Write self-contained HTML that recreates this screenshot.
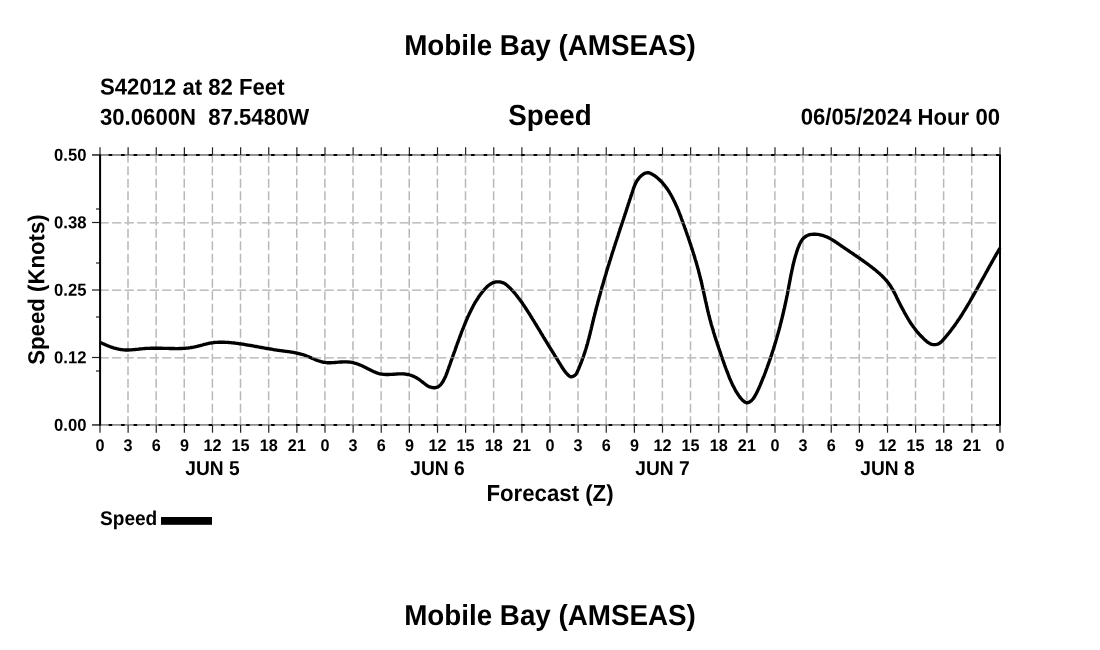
<!DOCTYPE html>
<html lang="en">
<head>
<meta charset="utf-8">
<title>Mobile Bay (AMSEAS) - Speed</title>
<style>
html,body{margin:0;padding:0;background:#fff;}
body{width:1100px;height:650px;overflow:hidden;}
svg{display:block;}
</style>
</head>
<body>
<svg width="1100" height="650" viewBox="0 0 1100 650" font-family="'Liberation Sans', sans-serif" font-weight="bold" fill="#000">
<rect width="1100" height="650" fill="#fff"/>
<g stroke="#b8b8b8" stroke-width="1.5" stroke-dasharray="9 3.5" stroke-dashoffset="0.3" fill="none">
<path d="M99.88,425.0 V155.0"/>
<path d="M128.00,425.0 V155.0"/>
<path d="M156.13,425.0 V155.0"/>
<path d="M184.25,425.0 V155.0"/>
<path d="M212.38,425.0 V155.0"/>
<path d="M240.50,425.0 V155.0"/>
<path d="M268.63,425.0 V155.0"/>
<path d="M296.75,425.0 V155.0"/>
<path d="M324.88,425.0 V155.0"/>
<path d="M353.00,425.0 V155.0"/>
<path d="M381.13,425.0 V155.0"/>
<path d="M409.25,425.0 V155.0"/>
<path d="M437.38,425.0 V155.0"/>
<path d="M465.50,425.0 V155.0"/>
<path d="M493.63,425.0 V155.0"/>
<path d="M521.75,425.0 V155.0"/>
<path d="M549.88,425.0 V155.0"/>
<path d="M578.00,425.0 V155.0"/>
<path d="M606.13,425.0 V155.0"/>
<path d="M634.25,425.0 V155.0"/>
<path d="M662.38,425.0 V155.0"/>
<path d="M690.50,425.0 V155.0"/>
<path d="M718.63,425.0 V155.0"/>
<path d="M746.75,425.0 V155.0"/>
<path d="M774.88,425.0 V155.0"/>
<path d="M803.00,425.0 V155.0"/>
<path d="M831.13,425.0 V155.0"/>
<path d="M859.25,425.0 V155.0"/>
<path d="M887.38,425.0 V155.0"/>
<path d="M915.50,425.0 V155.0"/>
<path d="M943.63,425.0 V155.0"/>
<path d="M971.75,425.0 V155.0"/>
<path d="M999.88,425.0 V155.0"/>
<path d="M100.0,155.25 H1000.0"/>
<path d="M100.0,222.75 H1000.0"/>
<path d="M100.0,290.25 H1000.0"/>
<path d="M100.0,357.75 H1000.0"/>
<path d="M100.0,425.25 H1000.0"/>
</g>
<path d="M100.0,342.3 L101.0,342.8 L102.0,343.2 L103.0,343.7 L104.0,344.1 L105.0,344.6 L106.0,345.0 L107.0,345.5 L108.1,345.9 L109.1,346.3 L110.2,346.7 L111.2,347.1 L112.3,347.4 L113.3,347.8 L114.4,348.1 L115.5,348.4 L116.6,348.7 L117.6,348.9 L118.7,349.2 L119.8,349.4 L120.9,349.6 L122.0,349.7 L123.1,349.8 L124.2,349.9 L125.3,350.0 L126.4,350.0 L127.5,350.0 L128.6,350.0 L129.7,349.9 L130.8,349.9 L131.9,349.8 L133.0,349.7 L134.1,349.6 L135.2,349.5 L136.3,349.4 L137.4,349.3 L138.5,349.2 L139.7,349.0 L140.8,348.9 L141.9,348.8 L143.0,348.7 L144.1,348.6 L145.2,348.5 L146.3,348.4 L147.4,348.4 L148.5,348.3 L149.6,348.3 L150.7,348.2 L151.8,348.2 L153.0,348.2 L154.1,348.2 L155.2,348.2 L156.3,348.2 L157.4,348.2 L158.5,348.2 L159.6,348.2 L160.7,348.2 L161.8,348.2 L162.9,348.3 L164.0,348.3 L165.1,348.3 L166.2,348.4 L167.3,348.4 L168.4,348.4 L169.5,348.5 L170.6,348.5 L171.7,348.5 L172.9,348.5 L174.0,348.5 L175.1,348.6 L176.2,348.6 L177.3,348.6 L178.4,348.6 L179.5,348.5 L180.6,348.5 L181.7,348.5 L182.8,348.4 L183.9,348.4 L185.0,348.3 L186.1,348.2 L187.2,348.1 L188.3,348.0 L189.4,347.8 L190.4,347.7 L191.5,347.5 L192.6,347.3 L193.7,347.1 L194.8,346.9 L195.9,346.6 L197.0,346.4 L198.0,346.1 L199.1,345.8 L200.2,345.5 L201.3,345.3 L202.4,345.0 L203.4,344.7 L204.5,344.4 L205.6,344.2 L206.7,343.9 L207.8,343.7 L208.8,343.4 L209.9,343.2 L211.0,343.0 L212.1,342.8 L213.2,342.7 L214.3,342.5 L215.4,342.4 L216.5,342.3 L217.6,342.3 L218.7,342.2 L219.8,342.2 L220.9,342.2 L222.0,342.2 L223.1,342.2 L224.2,342.2 L225.4,342.3 L226.5,342.3 L227.6,342.4 L228.7,342.5 L229.8,342.6 L230.9,342.7 L232.0,342.8 L233.1,342.9 L234.2,343.0 L235.3,343.2 L236.4,343.3 L237.5,343.4 L238.6,343.6 L239.7,343.8 L240.8,343.9 L241.9,344.1 L243.0,344.2 L244.1,344.4 L245.2,344.6 L246.3,344.8 L247.4,345.0 L248.5,345.1 L249.6,345.3 L250.7,345.5 L251.8,345.7 L252.9,345.9 L253.9,346.1 L255.0,346.3 L256.1,346.5 L257.2,346.7 L258.3,346.9 L259.4,347.1 L260.5,347.3 L261.6,347.5 L262.7,347.7 L263.7,347.9 L264.8,348.1 L265.9,348.3 L267.0,348.5 L268.1,348.7 L269.2,348.9 L270.3,349.0 L271.4,349.2 L272.5,349.4 L273.6,349.6 L274.6,349.8 L275.7,349.9 L276.8,350.1 L277.9,350.3 L279.0,350.4 L280.1,350.6 L281.2,350.7 L282.3,350.9 L283.4,351.0 L284.5,351.2 L285.6,351.3 L286.7,351.4 L287.8,351.6 L288.9,351.7 L290.0,351.9 L291.1,352.1 L292.2,352.2 L293.3,352.4 L294.4,352.6 L295.5,352.8 L296.6,353.0 L297.7,353.3 L298.7,353.5 L299.8,353.8 L300.9,354.1 L301.9,354.4 L303.0,354.7 L304.1,355.0 L305.1,355.4 L306.2,355.8 L307.2,356.2 L308.2,356.6 L309.3,357.1 L310.3,357.5 L311.3,357.9 L312.4,358.4 L313.4,358.8 L314.4,359.2 L315.5,359.7 L316.5,360.1 L317.5,360.5 L318.6,360.8 L319.6,361.2 L320.7,361.5 L321.7,361.8 L322.8,362.0 L323.8,362.3 L324.9,362.4 L326.0,362.6 L327.1,362.7 L328.2,362.7 L329.3,362.7 L330.4,362.7 L331.5,362.7 L332.6,362.6 L333.7,362.6 L334.9,362.5 L336.0,362.4 L337.1,362.3 L338.2,362.2 L339.3,362.1 L340.5,362.0 L341.6,362.0 L342.7,361.9 L343.8,361.9 L344.9,361.8 L346.0,361.9 L347.1,361.9 L348.2,362.0 L349.3,362.1 L350.4,362.2 L351.4,362.4 L352.5,362.6 L353.6,362.8 L354.6,363.1 L355.7,363.4 L356.7,363.7 L357.8,364.1 L358.8,364.4 L359.8,364.9 L360.8,365.3 L361.9,365.7 L362.9,366.2 L363.9,366.7 L364.9,367.2 L365.9,367.7 L366.9,368.2 L367.9,368.8 L368.9,369.3 L369.9,369.8 L370.9,370.3 L371.9,370.8 L372.9,371.3 L373.9,371.7 L374.9,372.1 L376.0,372.6 L377.0,372.9 L378.0,373.3 L379.1,373.6 L380.1,373.8 L381.2,374.1 L382.3,374.2 L383.4,374.4 L384.5,374.4 L385.6,374.5 L386.7,374.5 L387.8,374.5 L388.9,374.5 L390.1,374.4 L391.2,374.4 L392.3,374.3 L393.5,374.2 L394.6,374.2 L395.7,374.1 L396.9,374.0 L398.0,373.9 L399.1,373.9 L400.2,373.9 L401.4,373.9 L402.5,373.9 L403.6,373.9 L404.6,374.0 L405.7,374.1 L406.8,374.3 L407.8,374.5 L408.9,374.7 L409.9,375.0 L411.0,375.3 L412.0,375.7 L413.0,376.1 L414.0,376.5 L414.9,377.0 L415.9,377.5 L416.8,378.0 L417.8,378.6 L418.7,379.2 L419.6,379.8 L420.5,380.5 L421.4,381.2 L422.3,381.9 L423.2,382.6 L424.1,383.3 L425.0,384.0 L425.9,384.7 L426.8,385.3 L427.7,385.9 L428.7,386.4 L429.7,386.9 L430.8,387.2 L431.9,387.5 L433.0,387.7 L434.1,387.7 L435.2,387.7 L436.3,387.5 L437.4,387.1 L438.3,386.7 L439.2,386.0 L440.1,385.3 L440.8,384.5 L441.5,383.6 L442.2,382.7 L442.8,381.7 L443.4,380.8 L443.9,379.8 L444.4,378.8 L444.9,377.8 L445.4,376.8 L445.8,375.8 L446.2,374.7 L446.6,373.7 L447.0,372.7 L447.4,371.6 L447.7,370.6 L448.1,369.5 L448.5,368.5 L448.8,367.5 L449.2,366.4 L449.6,365.4 L450.0,364.3 L450.3,363.3 L450.7,362.2 L451.1,361.2 L451.4,360.2 L451.8,359.1 L452.2,358.1 L452.6,357.0 L452.9,356.0 L453.3,354.9 L453.7,353.9 L454.0,352.8 L454.4,351.8 L454.8,350.8 L455.2,349.7 L455.5,348.7 L455.9,347.6 L456.3,346.6 L456.6,345.5 L457.0,344.5 L457.4,343.4 L457.8,342.4 L458.2,341.4 L458.5,340.3 L458.9,339.3 L459.3,338.2 L459.7,337.2 L460.1,336.2 L460.5,335.1 L460.9,334.1 L461.2,333.1 L461.6,332.0 L462.0,331.0 L462.4,330.0 L462.8,328.9 L463.3,327.9 L463.7,326.9 L464.1,325.8 L464.5,324.8 L464.9,323.8 L465.3,322.8 L465.8,321.7 L466.2,320.7 L466.6,319.7 L467.1,318.7 L467.5,317.7 L467.9,316.7 L468.4,315.7 L468.9,314.7 L469.3,313.7 L469.8,312.7 L470.3,311.7 L470.8,310.7 L471.3,309.7 L471.8,308.7 L472.3,307.7 L472.8,306.7 L473.3,305.8 L473.8,304.8 L474.4,303.8 L474.9,302.9 L475.5,301.9 L476.1,301.0 L476.7,300.0 L477.3,299.1 L477.9,298.2 L478.5,297.2 L479.1,296.3 L479.8,295.4 L480.4,294.5 L481.1,293.6 L481.8,292.7 L482.5,291.8 L483.2,290.9 L483.9,290.1 L484.7,289.2 L485.5,288.4 L486.2,287.6 L487.0,286.8 L487.9,286.0 L488.7,285.3 L489.6,284.7 L490.5,284.1 L491.4,283.5 L492.4,283.0 L493.3,282.6 L494.3,282.3 L495.4,282.0 L496.5,281.9 L497.6,281.8 L498.7,281.8 L499.9,281.9 L501.0,282.2 L502.2,282.5 L503.3,282.9 L504.3,283.3 L505.2,283.9 L506.1,284.5 L507.0,285.2 L507.8,285.9 L508.6,286.7 L509.4,287.4 L510.2,288.2 L511.0,289.0 L511.7,289.8 L512.5,290.6 L513.2,291.4 L514.0,292.3 L514.7,293.1 L515.4,294.0 L516.1,294.8 L516.8,295.7 L517.5,296.6 L518.1,297.5 L518.8,298.3 L519.5,299.2 L520.1,300.1 L520.8,301.0 L521.4,301.9 L522.1,302.8 L522.7,303.7 L523.3,304.7 L524.0,305.6 L524.6,306.5 L525.2,307.4 L525.8,308.3 L526.4,309.3 L527.0,310.2 L527.6,311.1 L528.2,312.1 L528.8,313.0 L529.4,313.9 L530.0,314.9 L530.6,315.8 L531.2,316.8 L531.7,317.7 L532.3,318.6 L532.9,319.6 L533.5,320.5 L534.1,321.5 L534.6,322.4 L535.2,323.4 L535.8,324.3 L536.4,325.2 L536.9,326.2 L537.5,327.1 L538.1,328.1 L538.7,329.0 L539.2,330.0 L539.8,330.9 L540.4,331.9 L540.9,332.8 L541.5,333.8 L542.1,334.7 L542.7,335.7 L543.2,336.6 L543.8,337.6 L544.4,338.5 L544.9,339.5 L545.5,340.4 L546.1,341.4 L546.7,342.3 L547.3,343.3 L547.8,344.2 L548.4,345.2 L549.0,346.1 L549.6,347.1 L550.2,348.0 L550.8,348.9 L551.3,349.9 L551.9,350.8 L552.5,351.8 L553.1,352.7 L553.7,353.7 L554.3,354.6 L554.8,355.6 L555.4,356.5 L556.0,357.4 L556.6,358.4 L557.2,359.3 L557.8,360.3 L558.3,361.2 L558.9,362.1 L559.5,363.1 L560.1,364.0 L560.7,365.0 L561.2,365.9 L561.8,366.8 L562.4,367.8 L563.0,368.7 L563.6,369.6 L564.3,370.5 L564.9,371.4 L565.6,372.3 L566.3,373.1 L567.1,374.0 L567.9,374.8 L568.7,375.6 L569.6,376.3 L570.6,376.7 L571.6,376.7 L572.7,376.5 L573.8,376.0 L574.8,375.4 L575.6,374.6 L576.3,373.7 L576.8,372.8 L577.3,371.8 L577.8,370.8 L578.2,369.7 L578.7,368.7 L579.1,367.7 L579.5,366.7 L579.9,365.6 L580.3,364.6 L580.8,363.6 L581.2,362.5 L581.6,361.5 L582.0,360.4 L582.3,359.4 L582.7,358.4 L583.1,357.3 L583.5,356.3 L583.8,355.2 L584.2,354.2 L584.5,353.1 L584.9,352.1 L585.2,351.0 L585.6,350.0 L585.9,348.9 L586.2,347.9 L586.5,346.8 L586.8,345.7 L587.2,344.7 L587.5,343.6 L587.7,342.5 L588.0,341.5 L588.3,340.4 L588.6,339.3 L588.9,338.3 L589.2,337.2 L589.4,336.1 L589.7,335.0 L590.0,334.0 L590.2,332.9 L590.5,331.8 L590.7,330.7 L591.0,329.7 L591.3,328.6 L591.5,327.5 L591.8,326.4 L592.0,325.4 L592.3,324.3 L592.6,323.2 L592.8,322.1 L593.1,321.1 L593.3,320.0 L593.6,318.9 L593.9,317.8 L594.1,316.7 L594.4,315.7 L594.7,314.6 L595.0,313.5 L595.2,312.4 L595.5,311.4 L595.8,310.3 L596.1,309.2 L596.3,308.1 L596.6,307.1 L596.9,306.0 L597.2,304.9 L597.5,303.9 L597.7,302.8 L598.0,301.7 L598.3,300.6 L598.6,299.6 L598.9,298.5 L599.2,297.4 L599.5,296.3 L599.8,295.3 L600.1,294.2 L600.4,293.1 L600.6,292.1 L600.9,291.0 L601.2,289.9 L601.5,288.9 L601.8,287.8 L602.1,286.7 L602.5,285.7 L602.8,284.6 L603.1,283.5 L603.4,282.5 L603.7,281.4 L604.0,280.3 L604.3,279.3 L604.6,278.2 L604.9,277.2 L605.2,276.1 L605.6,275.0 L605.9,274.0 L606.2,272.9 L606.5,271.8 L606.8,270.8 L607.1,269.7 L607.5,268.7 L607.8,267.6 L608.1,266.5 L608.4,265.5 L608.8,264.4 L609.1,263.4 L609.4,262.3 L609.7,261.3 L610.1,260.2 L610.4,259.2 L610.7,258.1 L611.1,257.0 L611.4,256.0 L611.7,254.9 L612.1,253.9 L612.4,252.8 L612.7,251.8 L613.1,250.7 L613.4,249.7 L613.8,248.6 L614.1,247.6 L614.4,246.5 L614.8,245.5 L615.1,244.4 L615.4,243.4 L615.8,242.3 L616.1,241.3 L616.5,240.2 L616.8,239.2 L617.2,238.1 L617.5,237.1 L617.9,236.0 L618.2,235.0 L618.5,233.9 L618.9,232.9 L619.2,231.8 L619.6,230.8 L619.9,229.7 L620.3,228.7 L620.6,227.6 L621.0,226.5 L621.3,225.5 L621.7,224.4 L622.0,223.4 L622.4,222.3 L622.7,221.3 L623.1,220.2 L623.4,219.2 L623.8,218.1 L624.1,217.1 L624.5,216.0 L624.8,215.0 L625.2,213.9 L625.5,212.9 L625.9,211.8 L626.2,210.7 L626.6,209.7 L626.9,208.6 L627.2,207.6 L627.6,206.5 L627.9,205.5 L628.3,204.4 L628.6,203.3 L629.0,202.3 L629.3,201.2 L629.7,200.2 L630.0,199.1 L630.4,198.0 L630.7,197.0 L631.1,195.9 L631.4,194.8 L631.8,193.8 L632.1,192.7 L632.5,191.6 L632.8,190.6 L633.2,189.5 L633.5,188.5 L633.9,187.4 L634.3,186.4 L634.7,185.4 L635.2,184.3 L635.6,183.3 L636.1,182.4 L636.6,181.4 L637.2,180.5 L637.8,179.6 L638.5,178.7 L639.1,177.9 L639.9,177.0 L640.7,176.3 L641.5,175.5 L642.4,174.8 L643.4,174.1 L644.4,173.6 L645.4,173.1 L646.5,172.8 L647.5,172.7 L648.6,172.7 L649.6,173.0 L650.6,173.4 L651.6,173.9 L652.6,174.5 L653.6,175.1 L654.5,175.7 L655.5,176.4 L656.4,177.1 L657.2,177.8 L658.1,178.5 L658.9,179.2 L659.7,180.0 L660.5,180.8 L661.3,181.6 L662.1,182.4 L662.8,183.2 L663.5,184.1 L664.2,184.9 L664.9,185.8 L665.6,186.7 L666.3,187.6 L666.9,188.5 L667.5,189.4 L668.2,190.3 L668.8,191.3 L669.4,192.2 L669.9,193.1 L670.5,194.1 L671.0,195.0 L671.6,196.0 L672.1,197.0 L672.6,197.9 L673.1,198.9 L673.6,199.9 L674.1,200.9 L674.6,201.9 L675.1,202.9 L675.5,203.9 L676.0,204.9 L676.4,205.9 L676.9,206.9 L677.3,207.9 L677.7,208.9 L678.2,210.0 L678.6,211.0 L679.0,212.0 L679.4,213.1 L679.8,214.1 L680.2,215.1 L680.6,216.2 L681.0,217.2 L681.3,218.2 L681.7,219.3 L682.1,220.3 L682.5,221.4 L682.9,222.4 L683.2,223.5 L683.6,224.5 L684.0,225.5 L684.4,226.6 L684.7,227.6 L685.1,228.7 L685.5,229.7 L685.9,230.8 L686.2,231.8 L686.6,232.9 L687.0,233.9 L687.3,235.0 L687.7,236.0 L688.1,237.0 L688.4,238.1 L688.8,239.1 L689.1,240.2 L689.5,241.2 L689.8,242.3 L690.2,243.3 L690.5,244.4 L690.9,245.4 L691.2,246.5 L691.6,247.5 L691.9,248.6 L692.3,249.7 L692.6,250.7 L692.9,251.8 L693.3,252.8 L693.6,253.9 L693.9,254.9 L694.3,256.0 L694.6,257.0 L694.9,258.1 L695.2,259.2 L695.5,260.2 L695.9,261.3 L696.2,262.3 L696.5,263.4 L696.8,264.5 L697.1,265.5 L697.4,266.6 L697.7,267.7 L698.0,268.7 L698.3,269.8 L698.6,270.9 L698.8,271.9 L699.1,273.0 L699.4,274.1 L699.7,275.2 L699.9,276.2 L700.2,277.3 L700.5,278.4 L700.7,279.5 L701.0,280.6 L701.3,281.6 L701.5,282.7 L701.8,283.8 L702.0,284.9 L702.3,286.0 L702.5,287.0 L702.7,288.1 L703.0,289.2 L703.2,290.3 L703.5,291.4 L703.7,292.5 L704.0,293.5 L704.2,294.6 L704.4,295.7 L704.7,296.8 L704.9,297.9 L705.1,299.0 L705.4,300.1 L705.6,301.1 L705.9,302.2 L706.1,303.3 L706.4,304.4 L706.6,305.5 L706.8,306.5 L707.1,307.6 L707.3,308.7 L707.6,309.8 L707.8,310.9 L708.1,311.9 L708.4,313.0 L708.6,314.1 L708.9,315.2 L709.2,316.2 L709.4,317.3 L709.7,318.4 L710.0,319.5 L710.3,320.5 L710.6,321.6 L710.9,322.7 L711.1,323.7 L711.4,324.8 L711.7,325.8 L712.1,326.9 L712.4,328.0 L712.7,329.0 L713.0,330.1 L713.3,331.1 L713.6,332.2 L713.9,333.2 L714.3,334.3 L714.6,335.4 L714.9,336.4 L715.3,337.5 L715.6,338.5 L715.9,339.6 L716.3,340.6 L716.6,341.7 L717.0,342.7 L717.3,343.8 L717.7,344.8 L718.0,345.9 L718.4,346.9 L718.7,348.0 L719.1,349.0 L719.4,350.1 L719.8,351.1 L720.1,352.2 L720.5,353.2 L720.9,354.3 L721.2,355.3 L721.6,356.4 L722.0,357.4 L722.3,358.5 L722.7,359.6 L723.1,360.6 L723.4,361.7 L723.8,362.7 L724.2,363.8 L724.5,364.8 L724.9,365.9 L725.3,366.9 L725.7,368.0 L726.1,369.0 L726.5,370.1 L726.9,371.1 L727.3,372.2 L727.7,373.2 L728.1,374.2 L728.5,375.3 L728.9,376.3 L729.3,377.3 L729.7,378.4 L730.2,379.4 L730.6,380.4 L731.1,381.4 L731.5,382.4 L732.0,383.4 L732.4,384.4 L732.9,385.4 L733.4,386.4 L733.9,387.3 L734.4,388.3 L734.9,389.3 L735.4,390.2 L735.9,391.2 L736.5,392.1 L737.1,393.0 L737.7,394.0 L738.3,394.9 L738.9,395.8 L739.6,396.7 L740.3,397.6 L741.0,398.5 L741.8,399.4 L742.6,400.2 L743.5,401.0 L744.4,401.8 L745.3,402.3 L746.3,402.7 L747.3,402.7 L748.3,402.5 L749.3,402.1 L750.3,401.5 L751.3,400.7 L752.1,399.9 L752.9,399.0 L753.6,398.1 L754.2,397.2 L754.8,396.3 L755.3,395.3 L755.8,394.4 L756.3,393.4 L756.8,392.4 L757.3,391.4 L757.8,390.4 L758.2,389.4 L758.7,388.4 L759.2,387.4 L759.6,386.4 L760.1,385.4 L760.5,384.3 L760.9,383.3 L761.4,382.3 L761.8,381.2 L762.2,380.2 L762.6,379.2 L763.0,378.1 L763.5,377.1 L763.9,376.1 L764.3,375.0 L764.7,374.0 L765.1,373.0 L765.5,371.9 L765.9,370.9 L766.2,369.8 L766.6,368.8 L767.0,367.8 L767.4,366.7 L767.8,365.7 L768.1,364.6 L768.5,363.6 L768.9,362.6 L769.2,361.5 L769.6,360.5 L770.0,359.4 L770.3,358.4 L770.7,357.4 L771.0,356.3 L771.4,355.3 L771.7,354.2 L772.1,353.2 L772.4,352.1 L772.7,351.1 L773.1,350.0 L773.4,349.0 L773.7,347.9 L774.1,346.9 L774.4,345.8 L774.7,344.8 L775.0,343.7 L775.4,342.7 L775.7,341.6 L776.0,340.5 L776.3,339.5 L776.6,338.4 L776.9,337.4 L777.2,336.3 L777.5,335.2 L777.8,334.2 L778.1,333.1 L778.4,332.0 L778.7,330.9 L779.0,329.9 L779.3,328.8 L779.6,327.7 L779.9,326.6 L780.1,325.6 L780.4,324.5 L780.7,323.4 L781.0,322.3 L781.3,321.2 L781.5,320.1 L781.8,319.0 L782.1,318.0 L782.3,316.9 L782.6,315.8 L782.9,314.7 L783.1,313.6 L783.4,312.5 L783.6,311.4 L783.9,310.3 L784.1,309.2 L784.4,308.2 L784.6,307.1 L784.9,306.0 L785.1,304.9 L785.3,303.8 L785.6,302.7 L785.8,301.6 L786.0,300.5 L786.3,299.4 L786.5,298.4 L786.7,297.3 L786.9,296.2 L787.2,295.1 L787.4,294.0 L787.6,293.0 L787.8,291.9 L788.0,290.8 L788.2,289.7 L788.4,288.7 L788.6,287.6 L788.8,286.5 L789.0,285.4 L789.2,284.4 L789.4,283.3 L789.6,282.2 L789.8,281.2 L790.0,280.1 L790.2,279.1 L790.4,278.0 L790.6,276.9 L790.8,275.9 L791.0,274.8 L791.2,273.7 L791.5,272.7 L791.7,271.6 L791.9,270.5 L792.1,269.5 L792.4,268.4 L792.6,267.3 L792.8,266.3 L793.1,265.2 L793.3,264.1 L793.6,263.0 L793.9,262.0 L794.1,260.9 L794.4,259.8 L794.7,258.7 L795.0,257.6 L795.3,256.5 L795.6,255.4 L796.0,254.3 L796.3,253.3 L796.6,252.1 L797.0,251.0 L797.4,249.9 L797.7,248.8 L798.1,247.7 L798.6,246.6 L799.0,245.6 L799.5,244.5 L799.9,243.5 L800.5,242.5 L801.0,241.5 L801.6,240.6 L802.2,239.7 L802.9,238.9 L803.6,238.1 L804.4,237.4 L805.2,236.8 L806.0,236.2 L806.9,235.7 L807.9,235.3 L808.9,234.9 L809.9,234.6 L811.0,234.4 L812.1,234.3 L813.3,234.2 L814.4,234.2 L815.6,234.2 L816.8,234.3 L817.9,234.4 L819.1,234.6 L820.2,234.8 L821.3,235.1 L822.4,235.4 L823.5,235.7 L824.6,236.1 L825.6,236.5 L826.6,236.9 L827.6,237.3 L828.6,237.8 L829.6,238.3 L830.6,238.9 L831.5,239.4 L832.5,240.0 L833.4,240.5 L834.3,241.1 L835.2,241.7 L836.2,242.3 L837.1,243.0 L838.0,243.6 L838.9,244.2 L839.8,244.8 L840.7,245.5 L841.6,246.1 L842.5,246.7 L843.4,247.3 L844.4,248.0 L845.3,248.6 L846.2,249.2 L847.1,249.8 L848.0,250.4 L848.9,251.0 L849.8,251.7 L850.7,252.3 L851.7,252.9 L852.6,253.5 L853.5,254.1 L854.4,254.8 L855.3,255.4 L856.2,256.0 L857.1,256.6 L858.1,257.3 L859.0,257.9 L859.9,258.5 L860.8,259.2 L861.7,259.8 L862.6,260.4 L863.5,261.1 L864.4,261.7 L865.3,262.4 L866.2,263.0 L867.1,263.7 L868.0,264.3 L868.9,265.0 L869.8,265.7 L870.7,266.4 L871.6,267.0 L872.5,267.7 L873.3,268.4 L874.2,269.1 L875.1,269.8 L876.0,270.5 L876.8,271.2 L877.7,272.0 L878.5,272.7 L879.4,273.4 L880.2,274.2 L881.0,274.9 L881.8,275.7 L882.6,276.5 L883.4,277.3 L884.1,278.1 L884.9,278.9 L885.6,279.7 L886.4,280.5 L887.1,281.4 L887.8,282.2 L888.4,283.1 L889.1,284.0 L889.7,284.9 L890.4,285.8 L890.9,286.7 L891.5,287.6 L892.1,288.6 L892.7,289.5 L893.2,290.5 L893.7,291.5 L894.2,292.5 L894.8,293.4 L895.3,294.4 L895.8,295.4 L896.3,296.4 L896.7,297.4 L897.2,298.4 L897.7,299.4 L898.2,300.4 L898.7,301.4 L899.2,302.4 L899.7,303.4 L900.2,304.4 L900.7,305.4 L901.2,306.4 L901.7,307.4 L902.3,308.4 L902.8,309.4 L903.3,310.3 L903.8,311.3 L904.3,312.3 L904.9,313.3 L905.4,314.2 L906.0,315.2 L906.5,316.2 L907.1,317.1 L907.6,318.1 L908.2,319.0 L908.8,320.0 L909.3,320.9 L909.9,321.8 L910.5,322.8 L911.1,323.7 L911.8,324.6 L912.4,325.5 L913.0,326.4 L913.7,327.3 L914.3,328.1 L915.0,329.0 L915.6,329.9 L916.3,330.7 L917.0,331.6 L917.7,332.4 L918.4,333.3 L919.2,334.1 L919.9,334.9 L920.7,335.7 L921.5,336.5 L922.3,337.3 L923.1,338.1 L923.9,338.9 L924.7,339.7 L925.6,340.4 L926.4,341.2 L927.3,341.9 L928.2,342.5 L929.2,343.1 L930.2,343.7 L931.1,344.1 L932.2,344.4 L933.2,344.6 L934.3,344.7 L935.4,344.6 L936.6,344.4 L937.6,344.1 L938.6,343.7 L939.6,343.1 L940.5,342.5 L941.3,341.7 L942.1,341.0 L942.9,340.2 L943.6,339.3 L944.4,338.5 L945.1,337.6 L945.8,336.8 L946.5,335.9 L947.2,335.1 L948.0,334.2 L948.6,333.3 L949.3,332.5 L950.0,331.6 L950.7,330.7 L951.4,329.8 L952.0,328.9 L952.7,328.0 L953.4,327.2 L954.0,326.3 L954.7,325.4 L955.3,324.5 L955.9,323.6 L956.6,322.6 L957.2,321.7 L957.8,320.8 L958.4,319.9 L959.1,319.0 L959.7,318.1 L960.3,317.1 L960.9,316.2 L961.5,315.3 L962.1,314.4 L962.7,313.4 L963.2,312.5 L963.8,311.5 L964.4,310.6 L965.0,309.7 L965.6,308.7 L966.1,307.8 L966.7,306.8 L967.3,305.9 L967.8,304.9 L968.4,304.0 L969.0,303.0 L969.5,302.1 L970.1,301.1 L970.6,300.2 L971.2,299.2 L971.7,298.2 L972.3,297.3 L972.8,296.3 L973.4,295.4 L973.9,294.4 L974.5,293.4 L975.0,292.5 L975.6,291.5 L976.1,290.5 L976.7,289.6 L977.2,288.6 L977.7,287.6 L978.3,286.7 L978.8,285.7 L979.4,284.7 L979.9,283.7 L980.4,282.8 L981.0,281.8 L981.5,280.8 L982.0,279.9 L982.6,278.9 L983.1,277.9 L983.7,276.9 L984.2,276.0 L984.7,275.0 L985.3,274.0 L985.8,273.1 L986.3,272.1 L986.9,271.1 L987.4,270.2 L988.0,269.2 L988.5,268.2 L989.0,267.2 L989.6,266.3 L990.1,265.3 L990.7,264.3 L991.2,263.4 L991.7,262.4 L992.3,261.4 L992.8,260.5 L993.4,259.5 L993.9,258.5 L994.5,257.6 L995.0,256.6 L995.6,255.7 L996.1,254.7 L996.7,253.7 L997.2,252.8 L997.8,251.8 L998.3,250.9 L998.9,249.9 L999.4,249.0 L1000.0,248.0" stroke="#000" stroke-width="3.35" fill="none" stroke-linejoin="round" stroke-linecap="butt"/>
<g stroke="#c8c8c8" stroke-width="0.7" stroke-dasharray="9 3.5" stroke-dashoffset="0.3" fill="none">
<path d="M100.0,222.75 H1000.0"/>
<path d="M100.0,290.25 H1000.0"/>
<path d="M100.0,357.75 H1000.0"/>
</g>
<g stroke="#777" stroke-width="1.1" fill="none">
<path d="M92.0,154.9 H1000.0"/>
<path d="M92.0,424.8 H1000.0"/>
</g>
<g stroke="#000" stroke-width="2" stroke-dasharray="3.6 8.9" stroke-dashoffset="-8.6" fill="none">
<path d="M100.0,154.9 H1000.0"/>
<path d="M100.0,424.9 H1000.0"/>
</g>
<g stroke="#222" stroke-width="1.2" fill="none">
<path d="M100.00,155.0 v-7.7"/>
<path d="M100.00,425.0 v7.7"/>
<path d="M128.12,155.0 v-7.7"/>
<path d="M128.12,425.0 v7.7"/>
<path d="M156.25,155.0 v-7.7"/>
<path d="M156.25,425.0 v7.7"/>
<path d="M184.38,155.0 v-7.7"/>
<path d="M184.38,425.0 v7.7"/>
<path d="M212.50,155.0 v-7.7"/>
<path d="M212.50,425.0 v7.7"/>
<path d="M240.62,155.0 v-7.7"/>
<path d="M240.62,425.0 v7.7"/>
<path d="M268.75,155.0 v-7.7"/>
<path d="M268.75,425.0 v7.7"/>
<path d="M296.88,155.0 v-7.7"/>
<path d="M296.88,425.0 v7.7"/>
<path d="M325.00,155.0 v-7.7"/>
<path d="M325.00,425.0 v7.7"/>
<path d="M353.12,155.0 v-7.7"/>
<path d="M353.12,425.0 v7.7"/>
<path d="M381.25,155.0 v-7.7"/>
<path d="M381.25,425.0 v7.7"/>
<path d="M409.38,155.0 v-7.7"/>
<path d="M409.38,425.0 v7.7"/>
<path d="M437.50,155.0 v-7.7"/>
<path d="M437.50,425.0 v7.7"/>
<path d="M465.62,155.0 v-7.7"/>
<path d="M465.62,425.0 v7.7"/>
<path d="M493.75,155.0 v-7.7"/>
<path d="M493.75,425.0 v7.7"/>
<path d="M521.88,155.0 v-7.7"/>
<path d="M521.88,425.0 v7.7"/>
<path d="M550.00,155.0 v-7.7"/>
<path d="M550.00,425.0 v7.7"/>
<path d="M578.12,155.0 v-7.7"/>
<path d="M578.12,425.0 v7.7"/>
<path d="M606.25,155.0 v-7.7"/>
<path d="M606.25,425.0 v7.7"/>
<path d="M634.38,155.0 v-7.7"/>
<path d="M634.38,425.0 v7.7"/>
<path d="M662.50,155.0 v-7.7"/>
<path d="M662.50,425.0 v7.7"/>
<path d="M690.62,155.0 v-7.7"/>
<path d="M690.62,425.0 v7.7"/>
<path d="M718.75,155.0 v-7.7"/>
<path d="M718.75,425.0 v7.7"/>
<path d="M746.88,155.0 v-7.7"/>
<path d="M746.88,425.0 v7.7"/>
<path d="M775.00,155.0 v-7.7"/>
<path d="M775.00,425.0 v7.7"/>
<path d="M803.12,155.0 v-7.7"/>
<path d="M803.12,425.0 v7.7"/>
<path d="M831.25,155.0 v-7.7"/>
<path d="M831.25,425.0 v7.7"/>
<path d="M859.38,155.0 v-7.7"/>
<path d="M859.38,425.0 v7.7"/>
<path d="M887.50,155.0 v-7.7"/>
<path d="M887.50,425.0 v7.7"/>
<path d="M915.62,155.0 v-7.7"/>
<path d="M915.62,425.0 v7.7"/>
<path d="M943.75,155.0 v-7.7"/>
<path d="M943.75,425.0 v7.7"/>
<path d="M971.88,155.0 v-7.7"/>
<path d="M971.88,425.0 v7.7"/>
<path d="M1000.00,155.0 v-7.7"/>
<path d="M1000.00,425.0 v7.7"/>
<path d="M100.0,155.00 h-8"/>
<path d="M100.0,222.50 h-8"/>
<path d="M100.0,290.00 h-8"/>
<path d="M100.0,357.50 h-8"/>
<path d="M100.0,425.00 h-8"/>
<path d="M100.0,371.00 h-4"/>
<path d="M100.0,317.00 h-4"/>
<path d="M100.0,263.00 h-4"/>
<path d="M100.0,209.00 h-4"/>
</g>
<g stroke="#000" stroke-width="2" fill="none">
<path d="M100.1,154.5 V425.5"/>
<path d="M1000.0,154.5 V425.5"/>
</g>
<text transform="translate(86.50,160.80) rotate(0.03) scale(1,1.04)" font-size="16.67" text-anchor="end">0.50</text>
<text transform="translate(86.50,228.30) rotate(0.03) scale(1,1.04)" font-size="16.67" text-anchor="end">0.38</text>
<text transform="translate(86.50,295.80) rotate(0.03) scale(1,1.04)" font-size="16.67" text-anchor="end">0.25</text>
<text transform="translate(86.50,363.30) rotate(0.03) scale(1,1.04)" font-size="16.67" text-anchor="end">0.12</text>
<text transform="translate(86.50,430.80) rotate(0.03) scale(1,1.04)" font-size="16.67" text-anchor="end">0.00</text>
<text transform="translate(100.00,450.90) rotate(0.03) scale(1,1.04)" font-size="16.2" text-anchor="middle">0</text>
<text transform="translate(128.12,450.90) rotate(0.03) scale(1,1.04)" font-size="16.2" text-anchor="middle">3</text>
<text transform="translate(156.25,450.90) rotate(0.03) scale(1,1.04)" font-size="16.2" text-anchor="middle">6</text>
<text transform="translate(184.38,450.90) rotate(0.03) scale(1,1.04)" font-size="16.2" text-anchor="middle">9</text>
<text transform="translate(212.50,450.90) rotate(0.03) scale(1,1.04)" font-size="16.2" text-anchor="middle">12</text>
<text transform="translate(240.62,450.90) rotate(0.03) scale(1,1.04)" font-size="16.2" text-anchor="middle">15</text>
<text transform="translate(268.75,450.90) rotate(0.03) scale(1,1.04)" font-size="16.2" text-anchor="middle">18</text>
<text transform="translate(296.88,450.90) rotate(0.03) scale(1,1.04)" font-size="16.2" text-anchor="middle">21</text>
<text transform="translate(325.00,450.90) rotate(0.03) scale(1,1.04)" font-size="16.2" text-anchor="middle">0</text>
<text transform="translate(353.12,450.90) rotate(0.03) scale(1,1.04)" font-size="16.2" text-anchor="middle">3</text>
<text transform="translate(381.25,450.90) rotate(0.03) scale(1,1.04)" font-size="16.2" text-anchor="middle">6</text>
<text transform="translate(409.38,450.90) rotate(0.03) scale(1,1.04)" font-size="16.2" text-anchor="middle">9</text>
<text transform="translate(437.50,450.90) rotate(0.03) scale(1,1.04)" font-size="16.2" text-anchor="middle">12</text>
<text transform="translate(465.62,450.90) rotate(0.03) scale(1,1.04)" font-size="16.2" text-anchor="middle">15</text>
<text transform="translate(493.75,450.90) rotate(0.03) scale(1,1.04)" font-size="16.2" text-anchor="middle">18</text>
<text transform="translate(521.88,450.90) rotate(0.03) scale(1,1.04)" font-size="16.2" text-anchor="middle">21</text>
<text transform="translate(550.00,450.90) rotate(0.03) scale(1,1.04)" font-size="16.2" text-anchor="middle">0</text>
<text transform="translate(578.12,450.90) rotate(0.03) scale(1,1.04)" font-size="16.2" text-anchor="middle">3</text>
<text transform="translate(606.25,450.90) rotate(0.03) scale(1,1.04)" font-size="16.2" text-anchor="middle">6</text>
<text transform="translate(634.38,450.90) rotate(0.03) scale(1,1.04)" font-size="16.2" text-anchor="middle">9</text>
<text transform="translate(662.50,450.90) rotate(0.03) scale(1,1.04)" font-size="16.2" text-anchor="middle">12</text>
<text transform="translate(690.62,450.90) rotate(0.03) scale(1,1.04)" font-size="16.2" text-anchor="middle">15</text>
<text transform="translate(718.75,450.90) rotate(0.03) scale(1,1.04)" font-size="16.2" text-anchor="middle">18</text>
<text transform="translate(746.88,450.90) rotate(0.03) scale(1,1.04)" font-size="16.2" text-anchor="middle">21</text>
<text transform="translate(775.00,450.90) rotate(0.03) scale(1,1.04)" font-size="16.2" text-anchor="middle">0</text>
<text transform="translate(803.12,450.90) rotate(0.03) scale(1,1.04)" font-size="16.2" text-anchor="middle">3</text>
<text transform="translate(831.25,450.90) rotate(0.03) scale(1,1.04)" font-size="16.2" text-anchor="middle">6</text>
<text transform="translate(859.38,450.90) rotate(0.03) scale(1,1.04)" font-size="16.2" text-anchor="middle">9</text>
<text transform="translate(887.50,450.90) rotate(0.03) scale(1,1.04)" font-size="16.2" text-anchor="middle">12</text>
<text transform="translate(915.62,450.90) rotate(0.03) scale(1,1.04)" font-size="16.2" text-anchor="middle">15</text>
<text transform="translate(943.75,450.90) rotate(0.03) scale(1,1.04)" font-size="16.2" text-anchor="middle">18</text>
<text transform="translate(971.88,450.90) rotate(0.03) scale(1,1.04)" font-size="16.2" text-anchor="middle">21</text>
<text transform="translate(1000.00,450.90) rotate(0.03) scale(1,1.04)" font-size="16.2" text-anchor="middle">0</text>
<text transform="translate(212.50,475.00) rotate(0.03) scale(1,1.04)" font-size="19.2" text-anchor="middle">JUN 5</text>
<text transform="translate(437.50,475.00) rotate(0.03) scale(1,1.04)" font-size="19.2" text-anchor="middle">JUN 6</text>
<text transform="translate(662.50,475.00) rotate(0.03) scale(1,1.04)" font-size="19.2" text-anchor="middle">JUN 7</text>
<text transform="translate(887.50,475.00) rotate(0.03) scale(1,1.04)" font-size="19.2" text-anchor="middle">JUN 8</text>
<text transform="translate(550.00,501.00) rotate(0.03) scale(1,1.04)" font-size="22.22" text-anchor="middle">Forecast (Z)</text>
<text transform="translate(44.30,289.50) rotate(-89.97) scale(1,1.04)" font-size="22.22" text-anchor="middle">Speed (Knots)</text>
<text transform="translate(550.00,55.00) rotate(0.03) scale(1,1.04)" font-size="27.78" text-anchor="middle">Mobile Bay (AMSEAS)</text>
<text transform="translate(550.00,625.00) rotate(0.03) scale(1,1.04)" font-size="27.78" text-anchor="middle">Mobile Bay (AMSEAS)</text>
<text transform="translate(550.00,124.90) rotate(0.03) scale(1,1.04)" font-size="27.78" text-anchor="middle">Speed</text>
<text transform="translate(100.00,94.60) rotate(0.03) scale(1.0,1.04)" font-size="22.15">S42012 at 82 Feet</text>
<text transform="translate(100.00,124.70) rotate(0.03) scale(1.0,1.04)" font-size="22.15" xml:space="preserve">30.0600N  87.5480W</text>
<text transform="translate(1000.00,124.70) rotate(0.03) scale(1.0,1.04)" font-size="22.15" text-anchor="end">06/05/2024 Hour 00</text>
<text transform="translate(100.00,525.00) rotate(0.03) scale(1,1.04)" font-size="19.1">Speed</text>
<rect x="161" y="517" width="51" height="7.8" fill="#000"/>
</svg>
</body>
</html>
